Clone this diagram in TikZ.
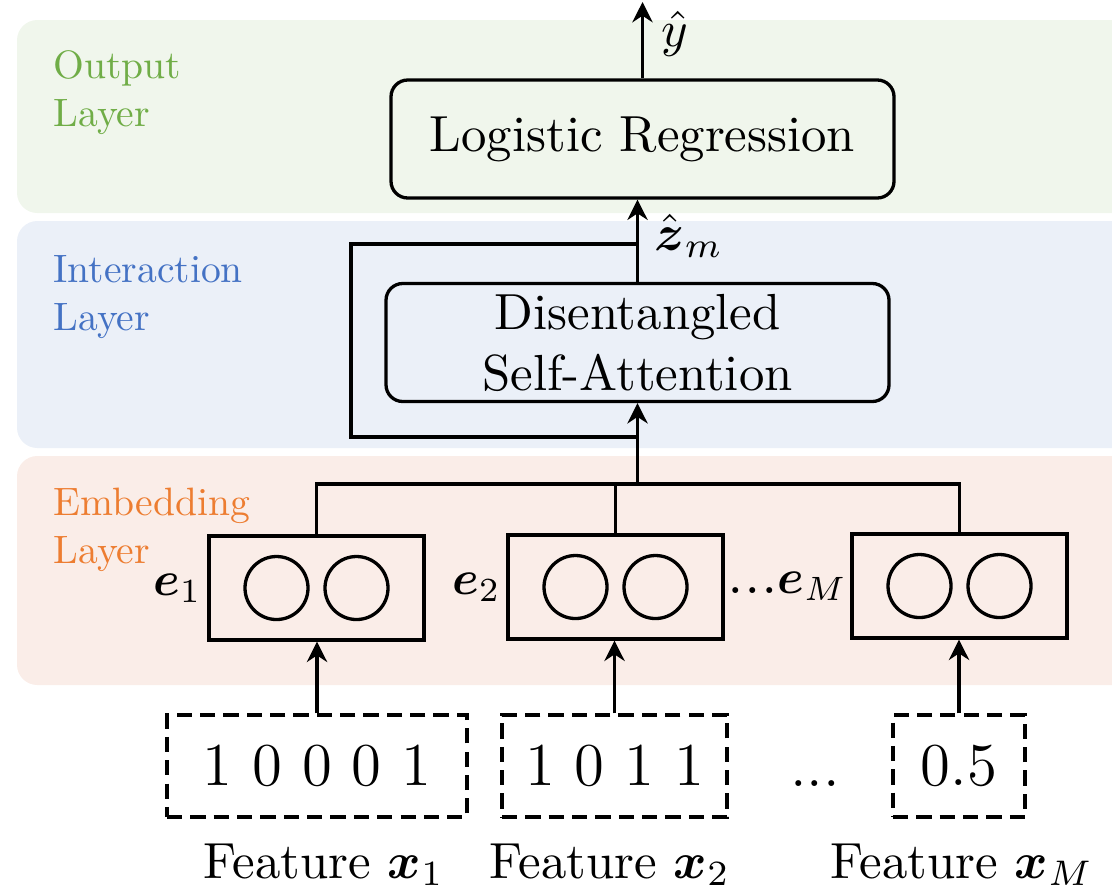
\documentclass[tikz,border=0pt]{standalone}
\usepackage{amsmath}
\usepackage{graphicx}
\usetikzlibrary{arrows.meta}
\definecolor{ogreen}{HTML}{70AD47}
\definecolor{oblue}{HTML}{4472C4}
\definecolor{oorange}{HTML}{ED7D31}
\definecolor{bggreen}{HTML}{F0F6EC}
\definecolor{bgblue}{HTML}{EBF0F8}
\definecolor{bgorange}{HTML}{FAEDE8}
\newcommand\pxl{0.197pt}
\newcommand\laylab[2]{\scalebox{0.78}{\begin{tabular}{@{}l@{}}#1\\#2\end{tabular}}}
\newcommand\smallmath[1]{\scalebox{0.95}{$#1$}}
\begin{document}
\begin{tikzpicture}[x=0.197pt,y=-0.197pt, line width=0.65pt,
  layerlabel/.style={align=left, anchor=north west, inner sep=0pt},
  blockbox/.style={draw, rounded corners=3.3pt, minimum width=503*\pxl, minimum height=118*\pxl, align=center, inner sep=0pt},
  embbox/.style={draw, minimum width=215*\pxl, minimum height=104*\pxl, inner sep=0pt},
  unitc/.style={draw, circle, minimum size=63*\pxl, inner sep=0pt},
  inbox/.style={draw, dash pattern=on 3pt off 1.6pt, minimum height=102*\pxl, font=\large, inner sep=0pt},
  elabel/.style={anchor=east, inner sep=0.8pt},
  arr/.style={-{Stealth[length=4pt,width=4pt,inset=1.3pt]}},
  ]
\useasboundingbox (0,0) rectangle (1112,893);
\clip (0,0) rectangle (1112,893);
% layer backgrounds
\fill[bggreen, rounded corners=4pt] (17,20) rectangle (1160,213);
\fill[bgblue, rounded corners=4pt] (17,221) rectangle (1160,448);
\fill[bgorange, rounded corners=4pt] (17,456) rectangle (1160,685);
\node[layerlabel, text=ogreen] (lo) at (52,44) {\laylab{Output}{Layer}};
\node[layerlabel, text=oblue] (li) at (52,248) {\laylab{Interaction}{Layer}};
\node[layerlabel, text=oorange] (le) at (52,481) {\laylab{Embedding}{Layer}};
% blocks
\node[blockbox] (lr) at (642.5,139) {Logistic Regression};
\node[blockbox] (sa) at (637.5,342.5) {Disentangled\\Self-Attention};
% embeddings
\node[embbox] (e1) at (316.5,588) {};
\node[unitc] (u11) at (276.5,588) {};
\node[unitc] (u12) at (356.5,588) {};
\node[embbox] (e2) at (615.5,587) {};
\node[unitc] (u21) at (575.5,587) {};
\node[unitc] (u22) at (655.5,587) {};
\node[embbox] (eM) at (959.5,586) {};
\node[unitc] (uM1) at (919.5,586) {};
\node[unitc] (uM2) at (999.5,586) {};
\node[elabel] (l1) at (e1.west) {\smallmath{\boldsymbol{e}_1}};
\node[elabel] (l2) at (e2.west) {\smallmath{\boldsymbol{e}_2}};
\node[elabel, inner sep=0.3pt] (lM) at (eM.west) {{\large ...}\smallmath{\boldsymbol{e}_M}};
% inputs
\node[inbox, minimum width=300*\pxl] (x1) at (317,766) {1 0 0 0 1};
\node[inbox, minimum width=225*\pxl] (x2) at (614.5,766) {1 0 1 1};
\node[inbox, minimum width=132*\pxl] (xM) at (959,766) {0.5};
\node[anchor=base, font=\large] (dots) at (815,786) {...};
\node[anchor=base] (f1) at (324,878) {Feature $\boldsymbol{x}_1$};
\node[anchor=base] (f2) at (610,878) {Feature $\boldsymbol{x}_2$};
\node[anchor=base] (fM) at (962,878) {Feature $\boldsymbol{x}_M$};
% connectors
\draw[arr] (x1.north) -- (x1.north |- e1.south);
\draw[arr] (x2.north) -- (x2.north |- e2.south);
\draw[arr] (xM.north) -- (xM.north |- eM.south);
\coordinate (bus) at (637.5,484);
\draw (e1.north) |- (bus) -| (eM.north);
\draw (e2.north) -- (e2.north |- bus);
\draw[arr] (bus) -- (sa.south);
\coordinate (jb) at (637.5,437);
\coordinate (jt) at (637.5,244);
\coordinate (rl) at (351,244);
\draw (jb) -| (rl) -- (jt);
\draw[arr] (sa.north) -- (sa.north |- lr.south);
\coordinate (yout) at (642.5,2);
\draw[arr] (lr.north) -- (yout);
\node[anchor=west] (yh) at (643,34) {$\hat{y}$};
\node[anchor=west] (zh) at (636,236) {$\hat{\boldsymbol{z}}_m$};
\end{tikzpicture}
\end{document}
